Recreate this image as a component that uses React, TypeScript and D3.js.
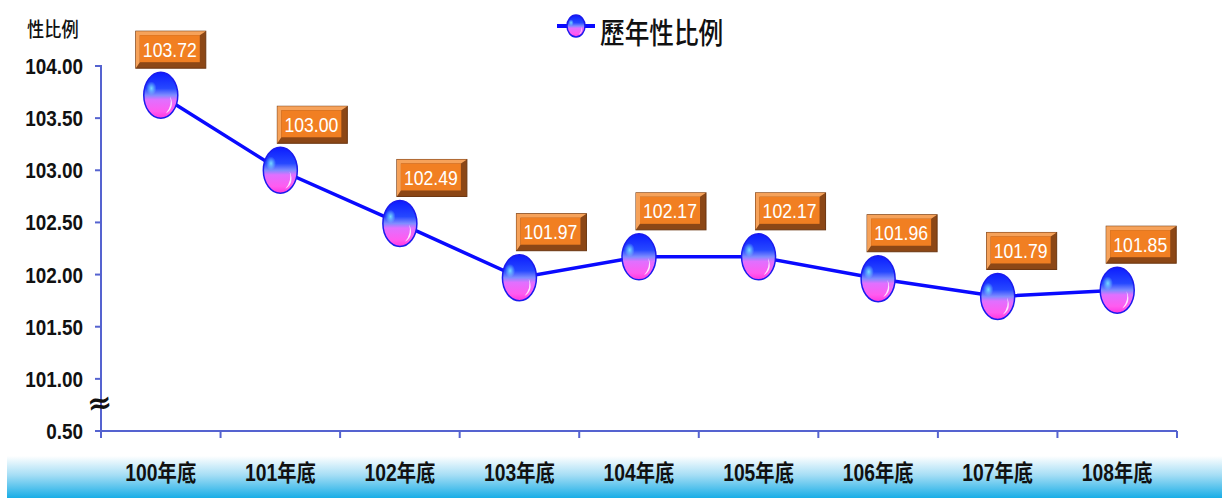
import React, { useRef, useEffect } from 'react';
import * as d3 from 'd3';

const categories = ['100年底', '101年底', '102年底', '103年底', '104年底', '105年底', '106年底', '107年底', '108年底'];
const ratios = [103.72, 103.0, 102.49, 101.97, 102.17, 102.17, 101.96, 101.79, 101.85];
const yTicks = [100.5, 101, 101.5, 102, 102.5, 103, 103.5, 104];
const yTickLabels = ['0.50', '101.00', '101.50', '102.00', '102.50', '103.00', '103.50', '104.00'];
// label boxes were nudged by hand in the original
const labelShift = [-22, 0, 0, 0, 0, 0, -8, -8, -8];

const W = 1222;
const H = 498;
const FONT = '"Liberation Sans", Arial, "Noto Sans CJK TC", sans-serif';
const CJK = '"Noto Sans CJK TC", sans-serif';
const AXIS = '#5563d0';

type Sel = d3.Selection<any, unknown, null, undefined>;

// the source picture is squeezed horizontally, so text is drawn condensed
const squeezed = (parent: Sel, x: number, y: number, sx: number, txt: string, size: number, opts: any = {}) => {
  const t = parent.append('text')
    .attr('transform', `translate(${x},${y}) scale(${sx},1)`)
    .attr('font-family', opts.family || FONT)
    .attr('font-size', size)
    .attr('font-weight', opts.weight || 'normal')
    .attr('text-anchor', opts.anchor || 'start')
    .attr('fill', opts.fill || '#111')
    .text(txt);
  return t;
};

const App = () => {
  const svgRef = useRef<SVGSVGElement>(null);

  useEffect(() => {
    const el = svgRef.current;
    if (!el) return;
    d3.select(el).selectAll('*').remove();
    const svg = d3.select(el) as Sel;

    const x = d3.scaleBand<string>().domain(categories).range([101, 1177]);
    const y = d3.scaleLinear().domain([100.5, 104]).range([431, 66]);
    const cx = (i: number) => (x(categories[i]) as number) + x.bandwidth() / 2;

    const defs = svg.append('defs');
    const band = defs.append('linearGradient').attr('id', 'band').attr('x1', 0).attr('y1', 0).attr('x2', 0).attr('y2', 1);
    band.append('stop').attr('offset', '0%').attr('stop-color', '#ffffff');
    band.append('stop').attr('offset', '45%').attr('stop-color', '#a6def5');
    band.append('stop').attr('offset', '100%').attr('stop-color', '#18ade6');

    const ball = defs.append('linearGradient').attr('id', 'ball').attr('x1', 0).attr('y1', 0).attr('x2', 0).attr('y2', 1);
    [['0%', '#0c1cff'], ['35%', '#2648ff'], ['50%', '#7f8cff'], ['60%', '#e070ff'], ['85%', '#ff5cf0'], ['100%', '#ff36e0']]
      .forEach(([o, c]) => ball.append('stop').attr('offset', o).attr('stop-color', c));
    const cyanSpot = defs.append('radialGradient').attr('id', 'cyan').attr('cx', '50%').attr('cy', '50%').attr('r', '50%');
    cyanSpot.append('stop').attr('offset', '0%').attr('stop-color', '#7fe8ff').attr('stop-opacity', 0.9);
    cyanSpot.append('stop').attr('offset', '100%').attr('stop-color', '#7fe8ff').attr('stop-opacity', 0);

    // bottom band
    svg.append('rect').attr('x', 7).attr('y', 456).attr('width', W - 7).attr('height', H - 456).attr('fill', 'url(#band)');

    // axes
    svg.append('line').attr('x1', 101).attr('x2', 101).attr('y1', 65).attr('y2', 432).attr('stroke', AXIS).attr('stroke-width', 2);
    svg.append('line').attr('x1', 100).attr('x2', 1177).attr('y1', 431).attr('y2', 431).attr('stroke', AXIS).attr('stroke-width', 2);

    svg.selectAll('.ytick').data(yTicks).join('line')
      .attr('x1', 95).attr('x2', 101).attr('y1', d => y(d)).attr('y2', d => y(d))
      .attr('stroke', AXIS).attr('stroke-width', 2);
    yTicks.forEach((t, i) => {
      squeezed(svg, 83, y(t) + 8, 0.86, yTickLabels[i], 22, { weight: 'bold', anchor: 'end' });
    });

    const xEdges = categories.map(c => x(c) as number).concat([1177]);
    svg.selectAll('.xtick').data(xEdges).join('line')
      .attr('x1', d => d).attr('x2', d => d).attr('y1', 431).attr('y2', 438)
      .attr('stroke', AXIS).attr('stroke-width', 2);
    categories.forEach((c, i) => {
      squeezed(svg, cx(i), 481, 0.84, c, 23, { weight: 'bold', anchor: 'middle' });
    });

    // axis break mark
    svg.append('text').attr('transform', 'translate(101,413) rotate(-8)').attr('text-anchor', 'middle')
      .attr('font-family', '"DejaVu Serif", serif').attr('font-weight', 'bold').attr('font-size', 30)
      .attr('fill', '#111').text('≈');

    squeezed(svg, 27, 37, 0.86, '性比例', 20, { family: CJK, weight: 500 });

    // line
    const line = d3.line<number>().x((d, i) => cx(i)).y(d => y(d));
    svg.append('path').datum(ratios).attr('d', line).attr('fill', 'none')
      .attr('stroke', '#0a0aff').attr('stroke-width', 3.5);

    const drawBall = (g: Sel, rx: number, ry: number) => {
      g.append('ellipse').attr('rx', rx).attr('ry', ry).attr('fill', 'url(#ball)').attr('stroke', '#1a1aee').attr('stroke-width', 1.5);
      g.append('ellipse').attr('cx', -rx * 0.55).attr('cy', -ry * 0.3).attr('rx', rx * 0.3).attr('ry', ry * 0.3).attr('fill', 'url(#cyan)');
      g.append('path')
        .attr('d', `M ${rx * 0.55} ${ry * 0.05} Q ${rx * 0.85} ${ry * 0.55} ${rx * 0.3} ${ry * 0.8} Q ${rx * 0.7} ${ry * 0.45} ${rx * 0.55} ${ry * 0.05} Z`)
        .attr('fill', '#ffffff').attr('opacity', 0.85);
    };

    ratios.forEach((v, i) => {
      const g = svg.append('g').attr('transform', `translate(${cx(i)},${y(v)})`);
      drawBall(g, 17, 23);
    });

    // value labels
    const bw = 70;
    const bh = 37;
    ratios.forEach((v, i) => {
      const left = cx(i) - 3 + labelShift[i];
      const top = y(v) - 64;
      const g = svg.append('g').attr('transform', `translate(${left},${top})`) as Sel;
      g.append('rect').attr('width', bw).attr('height', bh).attr('fill', '#8c4716').attr('stroke', '#6b3510').attr('stroke-width', 1);
      g.append('path').attr('d', `M0,0 H${bw} L${bw - 6},4 H4 V${bh - 6} L0,${bh} Z`).attr('fill', '#f6a25a');
      g.append('rect').attr('x', 4).attr('y', 4).attr('width', bw - 10).attr('height', bh - 10).attr('fill', '#f17f22');
      squeezed(g, bw / 2 - 1, bh / 2 + 7, 0.84, v.toFixed(2), 21, { anchor: 'middle', fill: '#ffffff' });
    });

    // legend
    const lg = svg.append('g').attr('transform', 'translate(576,26)') as Sel;
    lg.append('line').attr('x1', -19).attr('x2', 19).attr('stroke', '#0a0aff').attr('stroke-width', 4);
    drawBall(lg, 9, 11);
    squeezed(svg, 600, 44, 0.85, '歷年性比例', 29, { family: CJK, weight: 500 });
  }, []);

  return (
    <div style={{ position: 'absolute', left: 0, top: 0 }}>
      <svg ref={svgRef} width={W} height={H} style={{ display: 'block', background: '#fff' }} />
    </div>
  );
};

export default App;
